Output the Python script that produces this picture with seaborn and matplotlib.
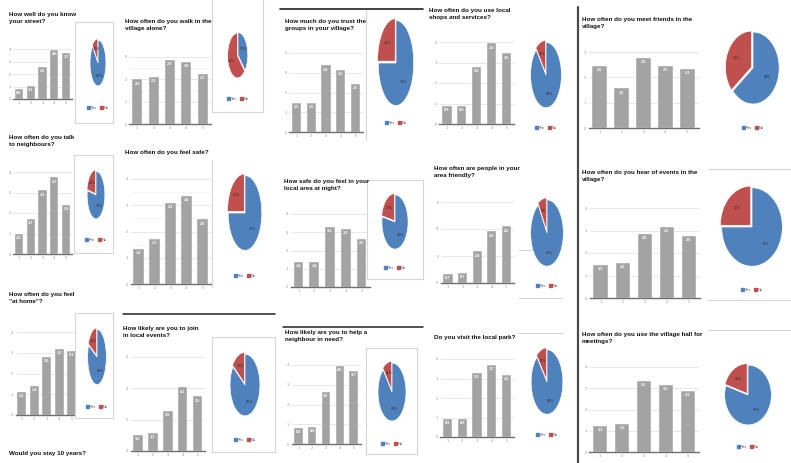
import matplotlib
matplotlib.use("Agg")
import numpy as np
import pandas as pd
import matplotlib.pyplot as plt
import seaborn as sns
from matplotlib.lines import Line2D
from matplotlib.patches import Patch

# ---------------------------------------------------------------- data
categories = ["1", "2", "3", "4", "5"]
legend_labels = ["Yes", "No"]

know_street = [0.8, 1.05, 2.6, 3.95, 3.7]
speak_neighbours = [0.97, 1.7, 3.1, 3.74, 2.38]
feel_at_home = [1.1, 1.4, 2.8, 3.2, 3.1]
walk_alone = [2.0, 2.1, 2.86, 2.77, 2.23]
feel_safe = [1.35, 1.73, 3.1, 3.35, 2.46]
community_events = [1.03, 1.16, 2.58, 4.06, 3.48]
trust_people = [1.48, 1.48, 3.37, 3.16, 2.45]
safe_after_dark = [1.39, 1.39, 3.3, 3.2, 2.65]
help_neighbour = [0.81, 0.85, 2.63, 3.95, 3.7]
local_shops = [0.87, 0.87, 2.77, 3.93, 3.45]
people_friendly = [0.66, 0.74, 2.35, 3.82, 4.19]
visit_park = [0.93, 0.93, 3.3, 3.68, 3.2]
meet_people = [2.46, 1.56, 2.77, 2.46, 2.34]
events_advertised = [1.47, 1.56, 2.84, 3.16, 2.76]
village_hall = [1.22, 1.32, 3.34, 3.15, 2.87]

# share answering "No" for each question (the rest answered "Yes")
no_share = {
    "know_street": 0.12, "speak_neighbours": 0.22, "feel_at_home": 0.18,
    "walk_alone": 0.63, "feel_safe": 0.25, "community_events": 0.15,
    "trust_people": 0.25, "safe_after_dark": 0.22, "help_neighbour": 0.11,
    "local_shops": 0.11, "people_friendly": 0.09, "visit_park": 0.11,
    "meet_people": 0.36, "events_advertised": 0.25, "village_hall": 0.20,
}

titles = {
    "know_street": "How well do you know\nyour street?",
    "speak_neighbours": "How often do you talk\nto neighbours?",
    "feel_at_home": "How often do you feel\n\"at home\"?",
    "walk_alone": "How often do you walk in the\nvillage alone?",
    "feel_safe": "How often do you feel safe?",
    "community_events": "How likely are you to join\nin local events?",
    "trust_people": "How much do you trust the\ngroups in your village?",
    "safe_after_dark": "How safe do you feel in your\nlocal area at night?",
    "help_neighbour": "How likely are you to help a\nneighbour in need?",
    "local_shops": "How often do you use local\nshops and services?",
    "people_friendly": "How often are people in your\narea friendly?",
    "visit_park": "Do you visit the local park?",
    "meet_people": "How often do you meet friends in the\nvillage?",
    "events_advertised": "How often do you hear of events in the\nvillage?",
    "village_hall": "How often do you use the village hall for\nmeetings?",
}

# ---------------------------------------------------------------- style
W, H = 791, 463
BAR = "#a3a3a3"
BLUE = "#4f81bd"
RED = "#c0504d"
GRID = "#e4e4e4"

sns.set_theme(style="white")
plt.rcParams["font.family"] = ["Liberation Sans Narrow", "Liberation Sans", "DejaVu Sans"]

fig = plt.figure(figsize=(W / 100, H / 100), dpi=100)
fig.patch.set_facecolor("white")


def frect(x0, y0, x1, y1):
    """Pixel box (top-left origin) -> figure fraction rect."""
    return [x0 / W, 1 - y1 / H, (x1 - x0) / W, (y1 - y0) / H]


def fline(x0, y0, x1, y1, color, lw):
    fig.add_artist(Line2D([x0 / W, x1 / W], [1 - y0 / H, 1 - y1 / H],
                          transform=fig.transFigure, color=color, lw=lw))


def title(key, x, y, size=4.5):
    fig.text(x / W, 1 - y / H, titles[key], fontsize=size, fontweight="bold",
             ha="left", va="top", linespacing=1.45, color="#111111")


def bar_panel(key, vals, box, ymax, step, width=0.62, minor=False):
    ax = fig.add_axes(frect(*box))
    df = pd.DataFrame({"answer": categories, "score": vals})
    sns.barplot(data=df, x="answer", y="score", color=BAR, saturation=1,
                width=width, ax=ax, edgecolor="white", linewidth=0.3)
    ax.set_xlim(-0.5, 4.5)
    ax.set_ylim(0, ymax)
    ax.set_yticks(np.arange(0, ymax + 1e-9, step))
    if minor:
        ax.set_yticks(np.arange(step / 2, ymax, step), minor=True)
        ax.yaxis.grid(True, which="minor", color="#efefef", lw=0.5)
    ax.yaxis.grid(True, which="major", color=GRID, lw=0.6)
    ax.set_axisbelow(True)
    for s in ("top", "right", "left"):
        ax.spines[s].set_visible(False)
    ax.spines["bottom"].set_color("#6e6e6e")
    ax.spines["bottom"].set_linewidth(1.0)
    ax.tick_params(axis="both", labelsize=3, colors="#9a9a9a", length=0, pad=1.5)
    ax.set_yticklabels([f"{t:g}" for t in ax.get_yticks()])
    ax.set_xlabel("")
    ax.set_ylabel("")
    ax.bar_label(ax.containers[0], fmt="%.1f", padding=-4.5, fontsize=2.8,
                 color="white", fontweight="bold")
    ax.patch.set_alpha(0)
    return ax


def pie_panel(key, cx, cy, w, h, legend_y, box=None):
    if box is not None:
        bax = fig.add_axes(frect(*box))
        bax.set_xticks([])
        bax.set_yticks([])
        for s in bax.spines.values():
            s.set_color("#d6d6d6")
            s.set_linewidth(0.8)
        bax.set_facecolor("white")
        bax.set_zorder(2)
    pax = fig.add_axes(frect(cx - w / 2, cy - h / 2, cx + w / 2, cy + h / 2))
    pax.set_zorder(3)
    red = no_share[key]
    pax.pie([1 - red, red], colors=[BLUE, RED], startangle=90, counterclock=False,
            explode=[0, 0.06], wedgeprops=dict(edgecolor="white", linewidth=0.5),
            autopct="%1.0f%%", pctdistance=0.62,
            textprops=dict(fontsize=2.6, color="#2a2a2a"))
    pax.set_aspect("auto")
    pax.set_xlim(-1.07, 1.07)
    pax.set_ylim(-1.07, 1.07)
    pax.patch.set_alpha(0)
    handles = [Patch(color=BLUE), Patch(color=RED)]
    pax.legend(handles, legend_labels, loc="center", ncol=2,
               bbox_to_anchor=(cx / W, 1 - legend_y / H),
               bbox_transform=fig.transFigure, fontsize=2.8, frameon=False,
               handlelength=0.7, handleheight=0.7, columnspacing=0.6,
               handletextpad=0.3, labelcolor="#555555")


# ---------------------------------------------------------------- column A
title("know_street", 9, 12)
bar_panel("know_street", know_street, (13, 49, 72, 99), 4, 1, width=0.7)
pie_panel("know_street", 98, 63, 17, 49, 108, box=(75, 22, 113, 123))

title("speak_neighbours", 9, 135)
bar_panel("speak_neighbours", speak_neighbours, (13, 172, 72, 254), 4, 1, width=0.7)
pie_panel("speak_neighbours", 96, 195, 19, 51, 240, box=(74, 155, 113, 253))

title("feel_at_home", 9, 292)
bar_panel("feel_at_home", feel_at_home, (15.5, 332, 78, 415), 4, 1, width=0.7)
pie_panel("feel_at_home", 97, 357, 20, 59, 407, box=(75, 313, 113, 418))

fig.text(9 / W, 1 - 451 / H, "Would you stay 10 years?", fontsize=4.5,
         fontweight="bold", ha="left", va="top", color="#111111")

# ---------------------------------------------------------------- column B
title("walk_alone", 125, 19)
bar_panel("walk_alone", walk_alone, (129, 57, 211, 124), 3, 1, minor=True)
pie_panel("walk_alone", 238, 55, 21, 48, 99, box=(212, -2, 263, 112))

title("feel_safe", 125, 150)
bar_panel("feel_safe", feel_safe, (130.5, 179, 210.5, 284), 4, 1,
          width=0.66, minor=True)
fline(212, 160, 212, 287, "#d6d6d6", 0.8)
pie_panel("feel_safe", 245, 213, 36, 80, 276)

fline(123, 314, 275, 314, "#222222", 1.1)
title("community_events", 123, 326)
bar_panel("community_events", community_events, (130.5, 357, 205, 451), 6, 2, width=0.64)
pie_panel("community_events", 245, 385, 32, 66, 440, box=(212, 337, 275, 452))

# ---------------------------------------------------------------- column C
fline(280, 9, 423, 9, "#222222", 1.2)
title("trust_people", 285, 19)
bar_panel("trust_people", trust_people, (289, 53, 363, 132), 4, 1)
fline(366, 10, 366, 140, "#d6d6d6", 0.8)
pie_panel("trust_people", 396, 63, 38, 91, 123)

title("safe_after_dark", 284, 179)
bar_panel("safe_after_dark", safe_after_dark, (290.5, 214, 369.5, 287), 4, 1)
pie_panel("safe_after_dark", 395, 222, 28, 58, 268, box=(367, 180, 423, 279))

fline(283, 327, 423, 327, "#222222", 1.1)
title("help_neighbour", 285, 330)
bar_panel("help_neighbour", help_neighbour, (291.5, 365, 360.5, 444), 4, 1)
pie_panel("help_neighbour", 392, 392, 30, 62, 444, box=(366, 348, 417, 454))

# ---------------------------------------------------------------- column D
title("local_shops", 429, 8)
bar_panel("local_shops", local_shops, (439.5, 42, 514, 124), 4, 1)
pie_panel("local_shops", 546, 75, 33, 70, 128)

title("people_friendly", 434, 166)
bar_panel("people_friendly", people_friendly, (440.7, 202, 513.8, 283), 6, 2)
fline(519, 250, 562, 250, "#d6d6d6", 0.8)
fline(519, 298, 562, 298, "#d6d6d6", 0.8)
pie_panel("people_friendly", 547, 233, 35, 71, 286)

title("visit_park", 434, 335)
bar_panel("visit_park", visit_park, (440, 359, 514, 437), 4, 1)
fline(519, 333, 563, 333, "#d6d6d6", 0.8)
pie_panel("visit_park", 547, 382, 34, 69, 435)

# ---------------------------------------------------------------- column E
fline(578, 7, 578, 463, "#4a4a4a", 1.6)

title("meet_people", 582, 17)
bar_panel("meet_people", meet_people, (588.5, 52, 698.5, 128), 3, 1, width=0.64)
pie_panel("meet_people", 753, 68, 56, 77, 128)

title("events_advertised", 582, 170)
bar_panel("events_advertised", events_advertised, (589.5, 208, 700, 298), 4, 1, width=0.64)
fline(708, 169, 791, 169, "#d6d6d6", 0.8)
fline(708, 300, 791, 300, "#d6d6d6", 0.8)
pie_panel("events_advertised", 752, 227, 65, 84, 290)

title("village_hall", 582, 332)
bar_panel("village_hall", village_hall, (589, 367, 699, 452), 4, 1, width=0.64)
fline(708, 330, 791, 330, "#d6d6d6", 0.8)
pie_panel("village_hall", 748, 395, 50, 64, 447)

fig.savefig("out.png", dpi=100, facecolor="white")
